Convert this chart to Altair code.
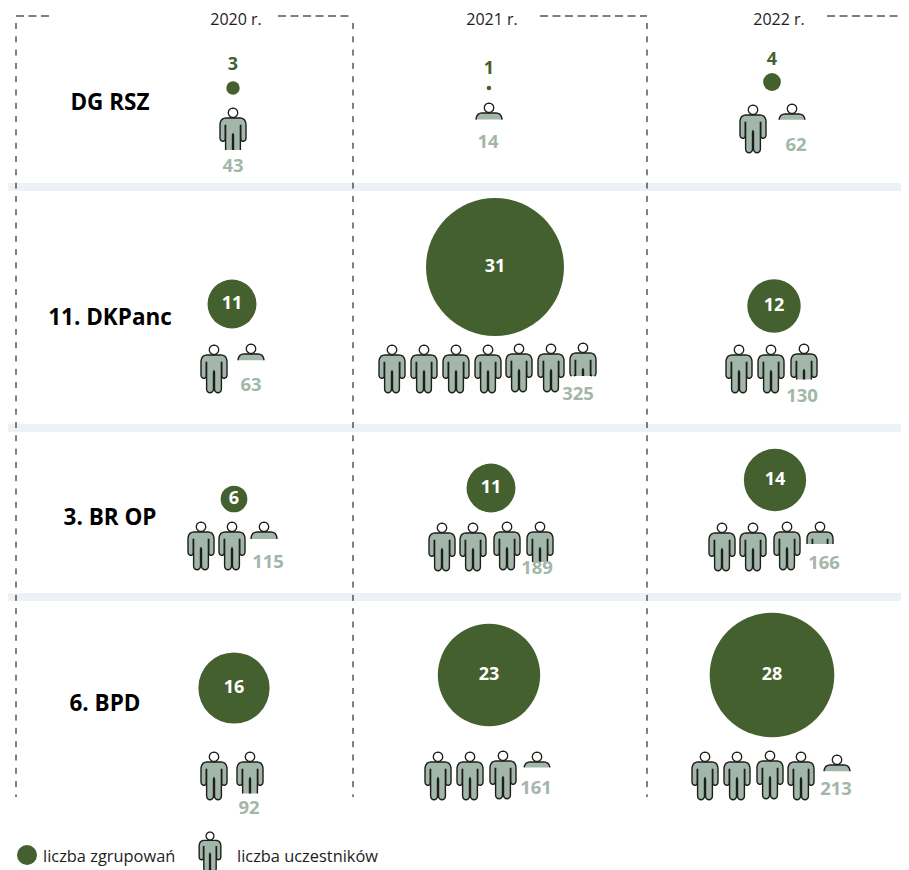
import math
import altair as alt
import numpy as np
import pandas as pd

# ---------- values ----------
YEARS = ["2020 r.", "2021 r.", "2022 r."]
UNITS = ["DG RSZ", "11. DKPanc", "3. BR OP", "6. BPD"]
GROUPS = [[3, 1, 4], [11, 31, 12], [6, 11, 14], [16, 23, 28]]
PARTICIPANTS = [[43, 14, 62], [63, 325, 130], [115, 189, 166], [92, 161, 213]]
PEOPLE_PER_ICON = 50
LEGEND = ["liczba zgrupowań", "liczba uczestników"]

# ---------- layout (screen pixels) ----------
GREEN = "#45602f"
SAGE = "#a3b6aa"
INK = "#1d1d1b"
BAND = "#eef2f7"
FONT = "Open Sans"
W, H = 893, 862
X_DOMAIN = [8, 901]
Y_DOMAIN = [870, 8]

CIRCLE_XY = [
    [(233, 88), (489, 88), (772, 82)],
    [(232, 304), (495, 267), (774, 306)],
    [(234, 499), (491, 488), (775, 480)],
    [(234, 688), (489, 675), (772, 675)],
]
GROUP_LABEL_Y = [[65, 69, 60], None, None, None]
ICON_X = [
    [[233], [489], [753, 792]],
    [[214, 251], [392, 424, 456, 488, 519, 551, 583], [739, 771, 804]],
    [[201, 232, 264], [442, 473, 507, 540], [722, 753, 787, 820]],
    [[214, 250], [438, 470, 503, 537], [705, 737, 770, 801, 837]],
]
ICON_Y = [
    [[132], [127], [129, 128]],
    [[369, 368], [369, 369, 369, 369, 368, 368, 367], [369, 369, 368]],
    [[546, 546, 546], [547, 547, 546, 546], [547, 547, 546, 546]],
    [[776, 776], [776, 776, 775, 776], [776, 776, 775, 776, 779]],
]
NUM_XY = [
    [(233, 166), (488, 142), (796, 145)],
    [(251, 385), (578, 394), (802, 396)],
    [(268, 562), (537, 568), (824, 563)],
    [(249, 808), (536, 788), (836, 789)],
]
UNIT_XY = [(110, 103), (110, 318), (110, 518), (105, 704)]
YEAR_XY = [(236, 20), (492, 20), (779, 20)]
BANDS_Y = [(183, 191), (424, 432), (593, 601)]
H_DASH = [(16, 50), (278, 353), (540, 647), (827, 901)]
V_DASH_X = [16, 353, 647]


# ---------- person glyph, in pixels around its centre (48 px high) ----------
def curve(p0, p1, p2, p3, n=8):
    t = np.linspace(0, 1, n + 1)[1:]
    return [
        (
            (1 - u) ** 3 * p0[0] + 3 * (1 - u) ** 2 * u * p1[0] + 3 * (1 - u) * u * u * p2[0] + u ** 3 * p3[0],
            (1 - u) ** 3 * p0[1] + 3 * (1 - u) ** 2 * u * p1[1] + 3 * (1 - u) * u * u * p2[1] + u ** 3 * p3[1],
        )
        for u in t
    ]


left = [(0, -14), (-7, -14)]
left += curve((-7, -14), (-11, -14), (-13, -11), (-13, -7))
left += [(-13, 6)]
left += curve((-13, 6), (-13, 10), (-8.2, 10.5), (-7.8, 7))
left += [(-7.8, -6.5), (-7.4, -6.5), (-7.4, 20)]
left += curve((-7.4, 20), (-7.4, 25), (-0.6, 25), (-0.5, 20))
left += [(-0.5, 3), (0, 2)]
BODY = left + [(-x, y) for x, y in reversed(left[:-1])]
HEAD = [(4.7 * math.cos(a), -19.2 + 4.7 * math.sin(a)) for a in np.linspace(0, 2 * math.pi, 25)[:-1]]


def fmt(points, close=False):
    s = "M" + "L".join(f"{x / 24:.4f} {y / 24:.4f}" for x, y in points)
    return s + ("Z" if close else "")


def clip_fill(points, cut):
    out = []
    for i, p in enumerate(points):
        q = points[(i + 1) % len(points)]
        if p[1] <= cut:
            out.append(p)
        if (p[1] <= cut) != (q[1] <= cut):
            t = (cut - p[1]) / (q[1] - p[1])
            out.append((p[0] + t * (q[0] - p[0]), cut))
    return out


def clip_stroke(points, cut):
    closed = points + [points[0]]
    runs, run = [], []
    for p, q in zip(closed, closed[1:]):
        if p[1] <= cut:
            run = run or [p]
            if q[1] <= cut:
                run.append(q)
            else:
                t = (cut - p[1]) / (q[1] - p[1])
                run.append((p[0] + t * (q[0] - p[0]), cut))
                runs.append(run)
                run = []
        elif q[1] <= cut:
            t = (cut - p[1]) / (q[1] - p[1])
            run = [(p[0] + t * (q[0] - p[0]), cut), q]
    if run:
        runs.append(run)
    return "".join(fmt(r) for r in runs)


def cut_for(fraction):
    # depth below the shoulders at which a part-person icon is cropped
    if fraction >= 1:
        return 30
    return -14 + float(np.interp(fraction, [0.2, 0.3, 0.32, 0.5, 0.86], [5, 7, 12, 23, 32]))


# ---------- tables built from the values ----------
circles, group_labels, icons, numbers = [], [], [], []
for r, unit in enumerate(UNITS):
    for c, year in enumerate(YEARS):
        g = GROUPS[r][c]
        cx, cy = CIRCLE_XY[r][c]
        circles.append({"x": cx, "y": cy, "groups": g})
        inside = g >= 6
        ly = cy if inside else GROUP_LABEL_Y[r][c]
        group_labels.append({"x": cx, "y": ly, "t": str(g), "color": "#ffffff" if inside else GREEN})
        p = PARTICIPANTS[r][c]
        n = math.ceil(p / PEOPLE_PER_ICON)
        for i in range(n):
            frac = min(1.0, p / PEOPLE_PER_ICON - i)
            cut = cut_for(frac)
            icons.append(
                {
                    "x": ICON_X[r][c][i],
                    "y": ICON_Y[r][c][i],
                    "fill_path": fmt(clip_fill(BODY, cut), True),
                    "line_path": clip_stroke(BODY, cut),
                    "head_path": fmt(HEAD, True),
                }
            )
        nx, ny = NUM_XY[r][c]
        numbers.append({"x": nx, "y": ny, "t": str(p)})

xs = alt.Scale(domain=X_DOMAIN, range=[0, W])
ys = alt.Scale(domain=Y_DOMAIN, range=[H, 0])
X = alt.X("x:Q", scale=xs, axis=None)
Y = alt.Y("y:Q", scale=ys, axis=None)

bands = (
    alt.Chart(pd.DataFrame([{"x": 8, "x2": 901, "y": a, "y2": b} for a, b in BANDS_Y]))
    .mark_rect(color=BAND)
    .encode(X, x2="x2:Q", y=Y, y2="y2:Q")
)
hdash = (
    alt.Chart(pd.DataFrame([{"x": a, "x2": b, "y": 16} for a, b in H_DASH]))
    .mark_rule(color="#000000", strokeWidth=1, strokeDash=[8, 4.5])
    .encode(X, x2="x2:Q", y=Y)
)
vdash = (
    alt.Chart(pd.DataFrame([{"x": x, "y": 23, "y2": 797} for x in V_DASH_X]))
    .mark_rule(color="#000000", strokeWidth=1, strokeDash=[6, 7.3])
    .encode(X, y=Y, y2="y2:Q")
)
size_scale = alt.Scale(type="pow", exponent=2, domain=[0, 31], range=[0, 138 ** 2])
bubbles = (
    alt.Chart(pd.DataFrame(circles))
    .mark_point(filled=True, color=GREEN, opacity=1, shape="circle")
    .encode(X, Y, size=alt.Size("groups:Q", scale=size_scale, legend=None))
)
group_text = (
    alt.Chart(pd.DataFrame(group_labels))
    .mark_text(font=FONT, fontWeight="bold", fontSize=18, baseline="middle")
    .encode(X, Y, text="t:N", color=alt.Color("color:N", scale=None))
)


def glyphs(df, size):
    a = alt.Chart(df).mark_point(filled=True, color=SAGE, opacity=1, strokeWidth=0, size=size).encode(
        X, Y, shape=alt.Shape("fill_path:N", scale=None)
    )
    b = alt.Chart(df).mark_point(filled=False, stroke=INK, fillOpacity=0, opacity=1, strokeWidth=1.4, size=size).encode(
        X, Y, shape=alt.Shape("line_path:N", scale=None)
    )
    c = alt.Chart(df).mark_point(filled=True, fill="#ffffff", stroke=INK, opacity=1, strokeWidth=1.3, size=size).encode(
        X, Y, shape=alt.Shape("head_path:N", scale=None)
    )
    return a + b + c


people = glyphs(pd.DataFrame(icons), 48 ** 2)
num_text = (
    alt.Chart(pd.DataFrame(numbers))
    .mark_text(font=FONT, fontWeight="bold", fontSize=18.5, color=SAGE, baseline="middle")
    .encode(X, Y, text="t:N")
)
unit_text = (
    alt.Chart(pd.DataFrame([{"x": p[0], "y": p[1], "t": t} for p, t in zip(UNIT_XY, UNITS)]))
    .mark_text(font=FONT, fontWeight="bold", fontSize=22.5, color="#000000", baseline="middle")
    .encode(X, Y, text="t:N")
)
year_text = (
    alt.Chart(pd.DataFrame([{"x": p[0], "y": p[1], "t": t} for p, t in zip(YEAR_XY, YEARS)]))
    .mark_text(font=FONT, fontSize=16, color=INK, baseline="middle")
    .encode(X, Y, text="t:N")
)
legend_dot = (
    alt.Chart(pd.DataFrame([{"x": 27, "y": 855, "groups": 4.5}]))
    .mark_point(filled=True, color=GREEN, opacity=1, shape="circle")
    .encode(X, Y, size=alt.Size("groups:Q", scale=size_scale, legend=None))
)
legend_text = (
    alt.Chart(pd.DataFrame([{"x": 43, "y": 857, "t": LEGEND[0]}, {"x": 237, "y": 857, "t": LEGEND[1]}]))
    .mark_text(font=FONT, fontSize=16.4, color=INK, baseline="middle", align="left")
    .encode(X, Y, text="t:N")
)
legend_icon = glyphs(
    pd.DataFrame(
        [
            {
                "x": 210,
                "y": 852,
                "fill_path": fmt(BODY, True),
                "line_path": clip_stroke(BODY, 30),
                "head_path": fmt(HEAD, True),
            }
        ]
    ),
    40 ** 2,
)

chart = (
    alt.layer(
        bands, hdash, vdash, bubbles, group_text, people, num_text, unit_text, year_text,
        legend_dot, legend_text, legend_icon,
    )
    .properties(width=W, height=H, padding=0, background="#ffffff", autosize=alt.AutoSizeParams(type="none"))
    .configure_view(stroke=None)
)
chart.save("out.html", embed_options={"renderer": "svg", "actions": False})
